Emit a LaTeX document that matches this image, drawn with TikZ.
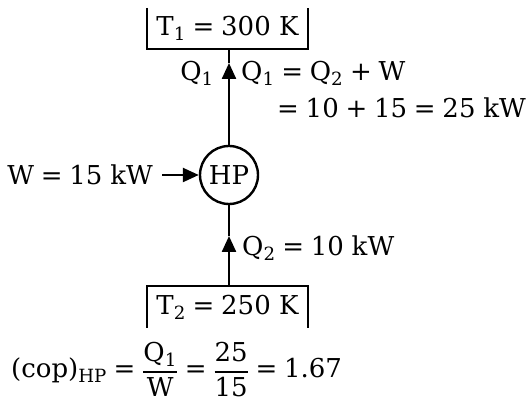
\documentclass[tikz,border=0pt]{standalone}
\usepackage{fontspec}
\setmainfont{DejaVu Serif}
\usepackage{amsmath}
\usetikzlibrary{arrows.meta}
\newcommand\eqq{\hspace{0.26em}=\hspace{0.26em}}
\newcommand\plusq{\hspace{0.26em}+\hspace{0.26em}}
\newcommand\sbs[1]{\textsubscript{#1}}
\newcommand\myfrac[2]{\genfrac{}{}{1.6pt}{0}{#1}{#2}}
\begin{document}
\begin{tikzpicture}[x=1pt,y=-1pt,
  every node/.style={font=\fontsize{26}{31}\selectfont, inner sep=0pt},
  lw/.style={line width=2.4pt},
  tip/.style={-{Triangle[length=16pt,width=14pt]}},
  res/.style={minimum width=161pt, minimum height=41pt}]
\useasboundingbox (0,0) rectangle (531,403);
% reservoirs
\node[res] (t1) at (227.5,28.5) {T\sbs{1}\eqq 300 K};
\draw[lw] (t1.north west) -- (t1.south west) -- (t1.south east) -- (t1.north east);
\node[res] (t2) at (227.5,307) {T\sbs{2}\eqq 250 K};
\draw[lw] (t2.south west) -- (t2.north west) -- (t2.north east) -- (t2.south east);
% heat pump
\node[circle, draw, lw, minimum size=58pt] (hp) at (229,175) {HP};
% heat flows
\coordinate (a1) at (229,63);
\coordinate (a2) at (229,236);
\draw[lw,tip] (hp.north) -- (a1);
\draw[lw] (a1) -- (t1.south -| hp);
\draw[lw,tip] (t2.north -| hp) -- (a2);
\draw[lw] (a2) -- (hp.south);
% work input
\node[anchor=east] (wl) at (153,175) {W\eqq 15\hspace{0.3em}kW};
\draw[lw,tip,shorten <=9pt] (wl.east) -- (hp.west);
% labels
\node[anchor=base east] (q1) at (214,81) {Q\sbs{1}};
\node[anchor=base west] (q1eq) at (241,81) {Q\sbs{1}\eqq Q\sbs{2}\plusq W};
\node[anchor=base west] (q1val) at (277,118) {=\hspace{0.26em}10\plusq 15\eqq 25\hspace{0.3em}kW};
\node[anchor=base west] (q2) at (242,256) {Q\sbs{2}\eqq 10\hspace{0.3em}kW};
% COP
\node[anchor=base west] (cop) at (11,378) {(cop)\sbs{HP}\eqq$\myfrac{\text{Q\sbs{1}}}{\text{W}}$\eqq$\myfrac{\text{25}}{\text{15}}$\eqq 1.67};
\end{tikzpicture}
\end{document}
